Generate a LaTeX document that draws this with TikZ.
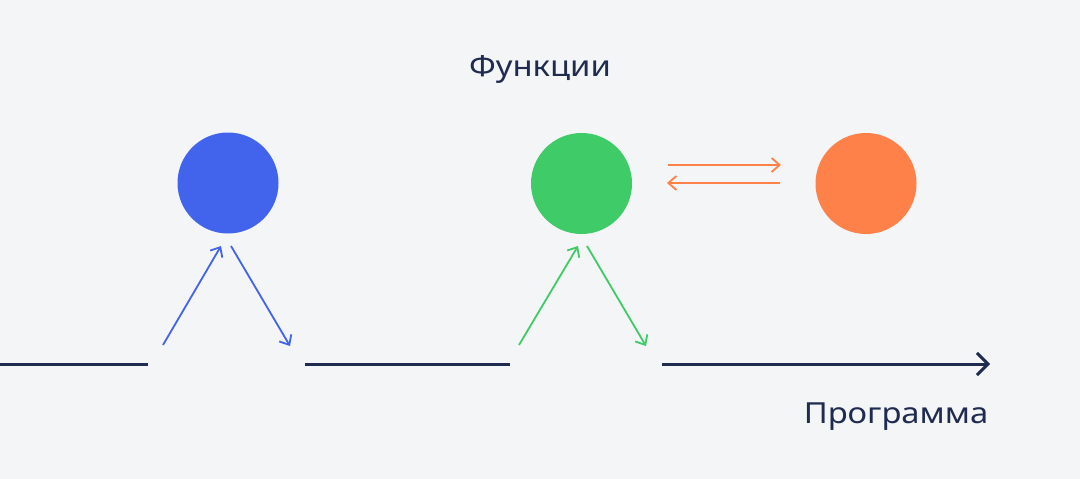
\documentclass[tikz,border=0pt]{standalone}
\usepackage{fontspec}
\setmainfont{Noto Sans}[FakeStretch=1.13]
\usetikzlibrary{arrows.meta}
\definecolor{navy}{HTML}{1F2B4F}
\definecolor{fblue}{HTML}{4263EB}
\definecolor{fgreen}{HTML}{3FCB67}
\definecolor{forange}{HTML}{FF814A}
\definecolor{paper}{HTML}{F3F5F7}
\tikzset{
    func/.style ={
        shape=circle,
        draw=none,
        minimum size=101pt,
        inner sep=0pt
    },
    track/.style ={
        draw=navy,
        line width=3pt
    },
    call/.style ={
        line width=1.8pt,
        -{Straight Barb[length=8pt,width=14pt]}
    },
    caption/.style ={
        text=navy,
        font=\fontsize{29}{34}\selectfont,
        anchor=base
    }
}

\begin{document}
\begin{tikzpicture}[x=1pt,y=-1pt]
    \fill[paper] (0,0) rectangle (1080,479);
    \useasboundingbox (0,0) rectangle (1080,479);
    \node[func,fill=fblue] (f1) at(228,183) {};
    \node[func,fill=fgreen] (f2) at(581.5,183.5) {};
    \node[func,fill=forange] (f3) at(866,183.5) {};
    \node[caption] (fn) at(540,76) {Функции};
    \node[caption] (prog) at(896,423) {Программа};
    % track pieces
    \coordinate (t0) at(0,364);
    \coordinate (t1) at(148,364);
    \coordinate (t2) at(305,364);
    \coordinate (t3) at(510,364);
    \coordinate (t4) at(662,364);
    \coordinate (t5) at(990,364);
    % call and return points
    \coordinate (c1) at(163,345);
    \coordinate (u1) at(221,246);
    \coordinate (d1) at(231,246);
    \coordinate (r1) at(290,346);
    \coordinate (c2) at(519,345);
    \coordinate (u2) at(578,246);
    \coordinate (d2) at(587,246);
    \coordinate (r2) at(646,346);
    \coordinate (o1) at(668,165);
    \coordinate (o2) at(781,165);
    \coordinate (o3) at(780,183);
    \coordinate (o4) at(667,183);
    \draw[track] (t0)--(t1);
    \draw[track] (t2)--(t3);
    \draw[track,-{Straight Barb[length=11pt,width=22pt]}] (t4)--(t5);
    \draw[call,fblue] (c1)--(u1);
    \draw[call,fblue] (d1)--(r1);
    \draw[call,fgreen] (c2)--(u2);
    \draw[call,fgreen] (d2)--(r2);
    \draw[call,forange] (o1)--(o2);
    \draw[call,forange] (o3)--(o4);
\end{tikzpicture}
\end{document}
